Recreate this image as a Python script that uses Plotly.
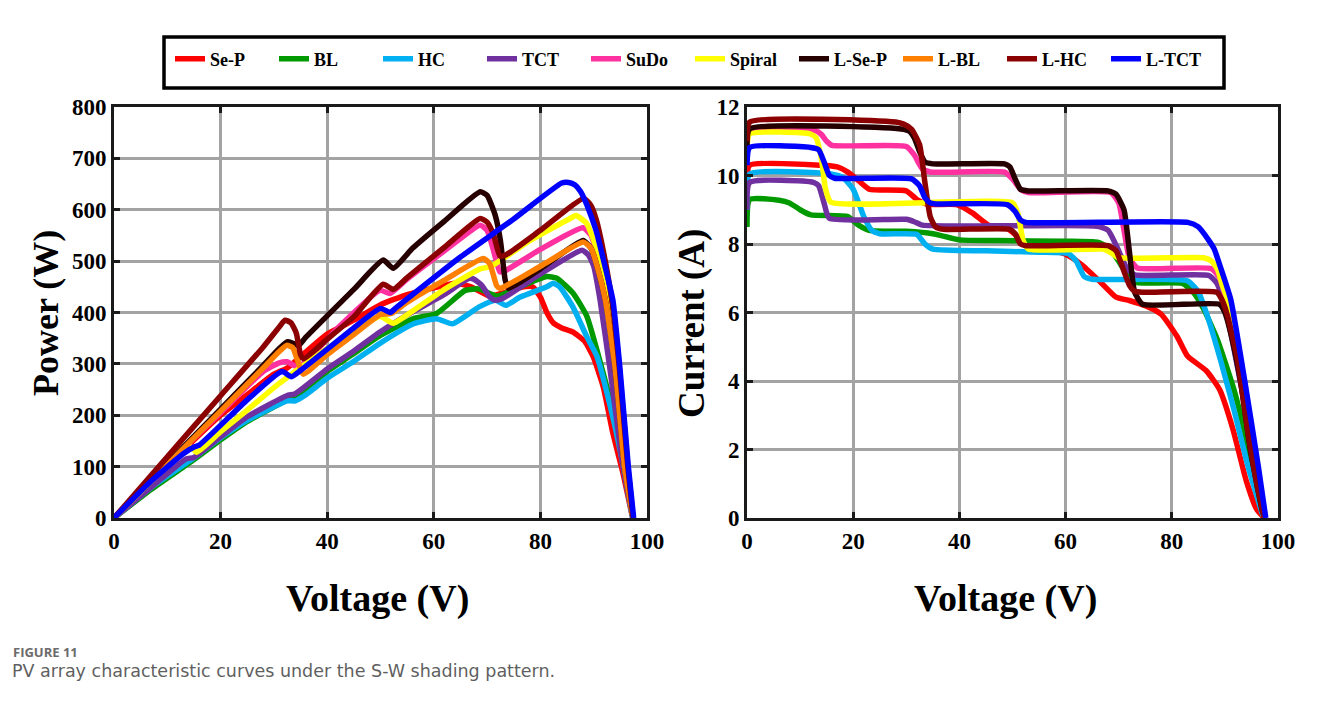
import plotly.graph_objects as go

W, H = 1328, 706
OFF = 8  # page body margin of the rendered html

# ---------------- names / colours ----------------
names = ["Se-P", "BL", "HC", "TCT", "SuDo", "Spiral", "L-Se-P", "L-BL", "L-HC", "L-TCT"]
colors = ["#FF0000", "#009A00", "#00B0F0", "#7030A0", "#FF30A0", "#FFFF00",
          "#260000", "#FF7F00", "#8B0000", "#0000FF"]

# ---------------- P-V data (V, P) ----------------
sep_pv_v = [0, 7, 14, 20, 25, 30, 32.5, 34, 40, 45, 50, 55, 60, 64, 67, 70.5, 73, 76, 78.5, 80, 81.2, 82.4, 84, 86.1, 88.3, 89.9, 91.8, 93.6, 95.5, 97.3]
sep_pv_p = [0, 72, 142, 200, 240, 280, 292, 305, 358, 385, 415, 435, 448, 457, 450, 432, 438, 448, 450, 430, 400, 380, 370, 362, 344, 314, 255, 165, 87, 0]

bl_pv_v = [0, 7, 14.9, 20, 25, 32.4, 34, 40, 45, 49.9, 56.2, 60.5, 65.9, 68.4, 70.5, 72, 75, 81.2, 83, 86.1, 88.7, 90.6, 93.1, 95, 96.8, 97.4]
bl_pv_p = [0, 56, 113, 152, 188, 229, 236, 285, 320, 355, 388, 398, 443, 446, 437, 432, 445, 470, 467, 438, 393, 327, 230, 145, 35, 0]

hc_pv_v = [0, 7, 15, 20, 25, 32.5, 34, 36, 40, 45, 49.9, 56.2, 60.5, 63.5, 68.5, 71.6, 73.5, 76.2, 81.2, 82.4, 83.6, 86.1, 88.7, 90.6, 93, 95, 97.3]
hc_pv_p = [0, 60, 117, 156, 190, 228, 228, 240, 272, 305, 340, 378, 388, 378, 411, 424, 414, 430, 450, 457, 450, 411, 353, 315, 222, 130, 0]

tct_pv_v = [0, 7, 13.5, 15, 20, 25, 32.4, 34, 40, 45, 49.9, 55, 62, 66.5, 67.5, 69, 70.5, 71.5, 73, 80, 87.8, 89, 90, 91.2, 93, 95.5, 97.4]
tct_pv_p = [0, 60, 115, 118, 158, 197, 238, 242, 290, 325, 362, 395, 435, 466, 465, 453, 430, 424, 428, 475, 521, 512, 490, 424, 294, 100, 0]

sudo_pv_v = [0, 10, 15, 20, 28, 31, 32.5, 34, 35.5, 42, 49.9, 51.8, 55, 62, 68.7, 70, 71.2, 72.4, 73.5, 80, 88, 89.5, 90.8, 92.5, 94.1, 95.8, 97.4]
sudo_pv_p = [0, 105, 155, 205, 285, 302, 304, 296, 300, 370, 443, 437, 465, 520, 570, 560, 521, 479, 482, 523, 565, 550, 505, 424, 294, 100, 0]

spiral_pv_v = [0, 7, 13.5, 14.5, 15.5, 20, 25, 31, 40, 49.9, 52.4, 56.2, 62, 68.7, 70.6, 78, 86.1, 86.7, 88.7, 90.6, 92.4, 94.2, 95.8, 97.4]
spiral_pv_p = [0, 72, 135, 138, 128, 168, 210, 262, 330, 392, 379, 404, 445, 485, 489, 540, 586, 589, 573, 521, 424, 294, 100, 0]

lsep_pv_v = [0, 10, 20, 28, 31, 32.6, 33.6, 34.6, 36, 45, 50.5, 52.4, 56, 62, 68.7, 70, 71.5, 72.5, 73.4, 74, 80, 88, 89.5, 90.5, 92.2, 94, 95.8, 97.4]
lsep_pv_p = [0, 106, 212, 297, 330, 343, 340, 336, 352, 445, 502, 486, 525, 578, 635, 628, 590, 540, 463, 447, 485, 540, 525, 495, 424, 294, 100, 0]

lbl_pv_v = [0, 10, 20, 28, 31, 32.4, 33.5, 34.5, 35.5, 40, 45, 50, 52, 55, 62, 69.3, 70.5, 71.8, 72.4, 80, 88.1, 89.5, 90.5, 92.2, 94, 95.8, 97.4]
lbl_pv_p = [0, 104, 208, 292, 324, 336, 332, 305, 280, 318, 357, 396, 398, 420, 463, 505, 495, 452, 447, 490, 537, 525, 495, 424, 294, 100, 0]

lhc_pv_v = [0, 10, 20, 28, 31, 32.1, 33.2, 34.2, 35, 35.6, 40, 45, 50.5, 52.4, 55, 62, 68.7, 70, 71.2, 72.4, 73.5, 80, 88.1, 89.5, 90.5, 91.8, 93.4, 94.8, 96.4, 97.4]
lhc_pv_p = [0, 119, 238, 333, 372, 385, 380, 360, 318, 310, 348, 392, 455, 445, 468, 527, 583, 576, 552, 510, 512, 560, 622, 608, 580, 520, 424, 294, 100, 0]

ltct_pv_v = [0, 7, 13, 15.2, 16, 25, 31.5, 33.3, 35, 45, 50, 51.8, 53, 65, 75, 84, 85.3, 86.5, 87.5, 88.5, 89.5, 90.6, 92, 93.6, 94.9, 96.5, 97.5]
ltct_pv_p = [0, 72, 125, 139, 142, 230, 285, 275, 287, 370, 408, 400, 410, 508, 582, 652, 653, 648, 636, 615, 588, 554, 495, 424, 294, 100, 0]

# ---------------- I-V data (V, I) ----------------
sep_iv_v = [0, 0.5, 14, 17, 19, 21, 23, 30, 32, 34, 39.5, 42.5, 45.5, 49, 52, 56, 60, 63, 66.5, 69.5, 72, 75, 78, 81, 83, 86.5, 89, 91.5, 94, 96, 97.4]
sep_iv_i = [9.8, 10.3, 10.3, 10.25, 10.1, 9.85, 9.6, 9.55, 9.3, 9.16, 9.15, 8.9, 8.55, 8.45, 8.1, 7.9, 7.7, 7.4, 6.9, 6.45, 6.35, 6.2, 5.95, 5.3, 4.72, 4.3, 3.75, 2.6, 1.1, 0.25, 0]

bl_iv_v = [0, 0.5, 6, 8, 10, 12, 19, 21, 23, 30, 35, 40, 47, 60, 66, 68, 70, 72, 73.5, 82, 84, 86, 88.6, 91.7, 94.2, 96.7, 97.4]
bl_iv_i = [8.5, 9.3, 9.28, 9.2, 9.0, 8.85, 8.8, 8.55, 8.4, 8.37, 8.3, 8.12, 8.1, 8.08, 8.05, 7.9, 7.5, 7.0, 6.87, 6.85, 6.6, 6.1, 5.2, 3.75, 2.2, 0.43, 0]

hc_iv_v = [0, 0.5, 16, 18, 20, 22, 23.5, 25, 32, 33.5, 35, 45, 55, 60.5, 62, 63.5, 65, 83, 85, 86.7, 89.2, 91.7, 94.2, 97, 97.4]
hc_iv_i = [9.0, 10.04, 10.04, 9.95, 9.6, 8.8, 8.4, 8.3, 8.28, 8.0, 7.85, 7.8, 7.76, 7.72, 7.5, 7.05, 6.97, 6.92, 6.6, 5.9, 4.6, 3.17, 1.6, 0.15, 0]

tct_iv_v = [0, 0.5, 12.5, 13.5, 14.5, 15.5, 30, 31.5, 33, 47, 66, 68, 70, 71.5, 73, 87, 88.5, 90, 91.5, 93, 95, 97.5]
tct_iv_i = [9.0, 9.8, 9.8, 9.7, 9.2, 8.75, 8.72, 8.65, 8.55, 8.53, 8.52, 8.4, 7.8, 7.3, 7.1, 7.08, 6.85, 6.2, 5.1, 3.9, 2.3, 0]

sudo_iv_v = [0, 0.5, 13, 14, 15, 16, 30, 31.5, 33, 34.5, 48.5, 50, 51.5, 53, 68.5, 70, 71, 72, 73.5, 87.5, 89, 90.5, 92, 94, 96, 97.5]
sudo_iv_i = [10.6, 11.3, 11.3, 11.2, 11.0, 10.88, 10.85, 10.6, 10.2, 10.1, 10.1, 9.9, 9.6, 9.5, 9.5, 9.2, 8.4, 7.6, 7.3, 7.28, 7.0, 6.2, 5.0, 3.0, 1.2, 0]

spiral_iv_v = [0, 0.5, 12, 13, 14, 14.8, 15.8, 50, 51, 52, 53, 67, 68.5, 70, 86, 87.5, 88.6, 89.5, 91.1, 92.9, 95.4, 97.4]
spiral_iv_i = [10.6, 11.21, 11.21, 11.1, 10.5, 9.6, 9.22, 9.2, 8.9, 8.1, 7.85, 7.85, 7.75, 7.6, 7.6, 7.5, 7.26, 6.8, 6.1, 4.43, 1.99, 0]

lsep_iv_v = [0, 0.5, 29, 30.5, 31.5, 32.5, 33.5, 35, 48.5, 49.5, 50.5, 51.5, 53, 68, 69.5, 71, 72, 73, 74.5, 89, 90, 91.1, 93, 94.8, 97, 97.5]
lsep_iv_i = [10.8, 11.36, 11.36, 11.3, 11.1, 10.7, 10.4, 10.34, 10.34, 10.25, 9.9, 9.6, 9.55, 9.55, 9.45, 9.0, 7.8, 6.6, 6.24, 6.24, 6.0, 5.4, 3.94, 1.99, 0.24, 0]

lhc_iv_v = [0, 0.5, 28, 29.5, 31, 32.5, 33.5, 34.5, 35.5, 37, 49.5, 50.5, 51.5, 52.5, 68, 69.5, 71, 72, 73, 74.5, 88.5, 89.5, 90.5, 92.4, 94.2, 96, 97.4]
lhc_iv_i = [11.0, 11.56, 11.56, 11.5, 11.35, 10.9, 9.8, 8.8, 8.5, 8.43, 8.43, 8.3, 8.0, 7.95, 7.95, 7.8, 7.2, 6.8, 6.62, 6.59, 6.59, 6.35, 5.9, 4.6, 2.65, 1.0, 0]

ltct_iv_v = [0, 0.5, 12, 13.5, 14.5, 15.5, 16.5, 31, 32.5, 33.5, 34.5, 35.5, 49, 50.5, 51.5, 52.5, 83, 85, 87, 88, 89, 91.1, 93.8, 96.3, 97.7]
ltct_iv_i = [10.3, 10.82, 10.82, 10.75, 10.4, 10.0, 9.92, 9.9, 9.7, 9.35, 9.2, 9.17, 9.15, 8.95, 8.7, 8.63, 8.63, 8.5, 8.1, 7.85, 7.4, 6.38, 3.94, 1.5, 0]

# ---------------- axis ticks ----------------
v_ticks = [0, 20, 40, 60, 80, 100]
p_ticks = [0, 100, 200, 300, 400, 500, 600, 700, 800]
i_ticks = [0, 2, 4, 6, 8, 10, 12]

pv_sets = [(sep_pv_v, sep_pv_p), (bl_pv_v, bl_pv_p), (hc_pv_v, hc_pv_p), (tct_pv_v, tct_pv_p),
           (sudo_pv_v, sudo_pv_p), (spiral_pv_v, spiral_pv_p), (lsep_pv_v, lsep_pv_p),
           (lbl_pv_v, lbl_pv_p), (lhc_pv_v, lhc_pv_p), (ltct_pv_v, ltct_pv_p)]
iv_sets = [(sep_iv_v, sep_iv_i), (bl_iv_v, bl_iv_i), (hc_iv_v, hc_iv_i), (tct_iv_v, tct_iv_i),
           (sudo_iv_v, sudo_iv_i), (spiral_iv_v, spiral_iv_i), (lsep_iv_v, lsep_iv_i),
           None, (lhc_iv_v, lhc_iv_i), (ltct_iv_v, ltct_iv_i)]

fig = go.Figure()
LW = 5.5
for k, nm in enumerate(names):
    v, p = pv_sets[k]
    fig.add_trace(go.Scatter(x=v, y=p, mode="lines", name=nm, legendgroup=nm,
                             line=dict(color=colors[k], width=LW, shape="spline", smoothing=0.5),
                             xaxis="x", yaxis="y"))
for k, nm in enumerate(names):
    if iv_sets[k] is None:
        continue
    v, i = iv_sets[k]
    fig.add_trace(go.Scatter(x=v, y=i, mode="lines", name=nm, legendgroup=nm, showlegend=False,
                             line=dict(color=colors[k], width=LW, shape="spline", smoothing=0.5),
                             xaxis="x2", yaxis="y2"))

def px_x(px):
    return (px - OFF) / W

def px_y(py):
    return 1 - (py - OFF) / H

SERIF = "Liberation Serif, Times New Roman, serif"
tickfont = dict(family=SERIF, size=23, color="black", weight="bold")
common = dict(showline=True, linecolor="#1a1a1a", linewidth=3, mirror="ticks",
              ticks="inside", ticklen=6, tickwidth=2.5, tickcolor="#1a1a1a",
              showgrid=True, gridcolor="#a3a3a3", gridwidth=2.5, zeroline=False,
              tickfont=tickfont, automargin=False, fixedrange=True)

y_top, y_bot = px_y(107), px_y(518)
fig.update_layout(
    width=W, height=H,
    margin=dict(l=0, r=0, t=0, b=0, autoexpand=False),
    paper_bgcolor="white", plot_bgcolor="white",
    xaxis=dict(domain=[px_x(114), px_x(647)], range=[0, 100], tickvals=v_ticks, anchor="y", **common),
    yaxis=dict(domain=[y_bot, y_top], range=[0, 800], tickvals=p_ticks, anchor="x", **common),
    xaxis2=dict(domain=[px_x(747), px_x(1278)], range=[0, 100], tickvals=v_ticks, anchor="y2", **common),
    yaxis2=dict(domain=[y_bot, y_top], range=[0, 12], tickvals=i_ticks, anchor="x2", **common),
    legend=dict(orientation="h", x=px_x(170), xanchor="left", y=px_y(59), yanchor="middle",
                bgcolor="rgba(0,0,0,0)", borderwidth=0, entrywidth=59, entrywidthmode="pixels",
                font=dict(family=SERIF, size=18, color="black", weight="bold"),
                itemclick=False, itemdoubleclick=False),
    showlegend=True,
)

# legend frame
fig.add_shape(type="rect", xref="paper", yref="paper",
              x0=px_x(164), x1=px_x(1224), y0=px_y(88), y1=px_y(37),
              line=dict(color="black", width=3.5), layer="above")

def tfont(sz):
    return dict(family=SERIF, size=sz, color="black", weight="bold")

anns = [
    dict(text="Voltage (V)", x=px_x(377), y=px_y(598), font=tfont(38)),
    dict(text="Voltage (V)", x=px_x(1005), y=px_y(598), font=tfont(38)),
    dict(text="Power (W)", x=px_x(46), y=px_y(313), font=tfont(36), textangle=-90),
    dict(text="Current (A)", x=px_x(692), y=px_y(324), font=tfont(37), textangle=-90),
]
for a in anns:
    fig.add_annotation(xref="paper", yref="paper", showarrow=False,
                       xanchor="center", yanchor="middle", **a)

fig.add_annotation(text="FIGURE 11", xref="paper", yref="paper", x=px_x(11), y=px_y(663),
                   xanchor="left", yanchor="bottom", showarrow=False,
                   font=dict(family="Open Sans, sans-serif", size=13, color="#6b6b6b", weight="bold"))
fig.add_annotation(text="PV array characteristic curves under the S-W shading pattern.",
                   xref="paper", yref="paper", x=px_x(10), y=px_y(659),
                   xanchor="left", yanchor="top", showarrow=False,
                   font=dict(family="DejaVu Sans, sans-serif", size=17.5, color="#5f5f5f"))

fig.write_html("out.html")
